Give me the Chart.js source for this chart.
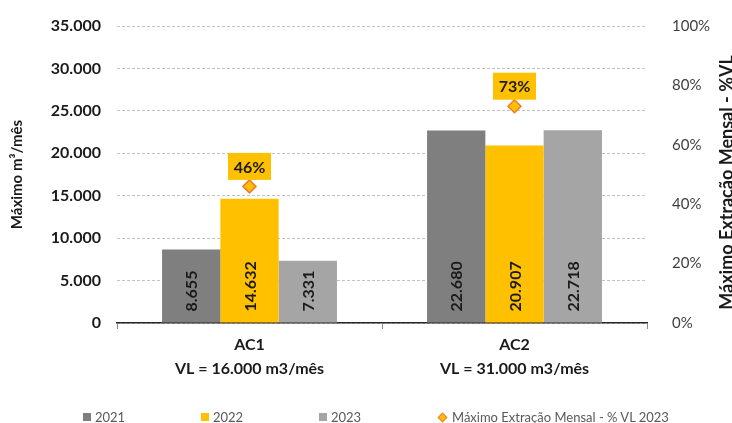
<!DOCTYPE html>
<html lang="pt">
<head>
    <meta charset="UTF-8">
    <title>Máximo Extração Mensal</title>
    <script src="https://cdn.jsdelivr.net/npm/chart.js"></script>
    <style>
        body {
            margin: 0;
            background: #ffffff;
            font-family: Lato, "Open Sans", sans-serif;
        }
        .wrap {
            position: relative;
            width: 732px;
            height: 423px;
        }
        .legend {
            position: absolute;
            top: 407px;
            left: 83px;
            display: flex;
            font-size: 13px;
            color: #595959;
            line-height: 20px;
        }
        .legend .item {
            width: 118px;
            display: flex;
            align-items: center;
            white-space: nowrap;
        }
        .legend .box {
            flex-shrink: 0;
            width: 8px;
            height: 8px;
            margin-right: 4px;
        }
        .legend .diamond {
            flex-shrink: 0;
            width: 7px;
            height: 7px;
            margin: 0 6px 0 2px;
            transform: rotate(45deg);
            box-sizing: border-box;
        }
    </style>
</head>
<body>
<div class="wrap">
    <canvas id="chart" width="732" height="423"></canvas>
    <div class="legend" id="legend"></div>
</div>

<script>
    // data
    const categories = [['AC1', 'VL = 16.000 m3/mês'], ['AC2', 'VL = 31.000 m3/mês']];
    const years = ['2021', '2022', '2023'];
    const values2021 = [8655, 22680];
    const values2022 = [14632, 20907];
    const values2023 = [7331, 22718];
    const pctLabel = 'Máximo Extração Mensal - % VL 2023';
    const pctVL2023 = [0.46, 0.73];
    const leftMax = 35000, leftStep = 5000;
    const rightMax = 1, rightStep = 0.2;
    const leftTitle = 'Máximo m³/mês';
    const rightTitle = 'Máximo Extração Mensal - %VL';

    const barColors = ['#7f7f7f', '#ffc000', '#a5a5a5'];
    const fmt = v => String(v).replace(/\B(?=(\d{3})+(?!\d))/g, '.');

    // value labels inside bars, % boxes and the right title
    const labelsPlugin = {
        id: 'labels',
        afterDatasetsDraw(chart) {
            const ctx = chart.ctx;
            ctx.save();
            ctx.font = 'bold 16px Lato';
            ctx.fillStyle = '#1a1a1a';
            for (let d = 0; d < 3; d++) {
                const ds = chart.data.datasets[d];
                chart.getDatasetMeta(d).data.forEach((bar, i) => {
                    ctx.save();
                    ctx.translate(bar.x + 1, bar.base - 11);
                    ctx.rotate(-Math.PI / 2);
                    ctx.textAlign = 'left';
                    ctx.textBaseline = 'middle';
                    ctx.fillText(fmt(ds.data[i]), 0, 0);
                    ctx.restore();
                });
            }
            const pts = chart.getDatasetMeta(3).data;
            pts.forEach((pt, i) => {
                const txt = Math.round(pctVL2023[i] * 100) + '%';
                const w = 43, h = 27;
                const cy = pt.y - 20;
                ctx.fillStyle = '#ffc000';
                ctx.fillRect(pt.x - w / 2, cy - h / 2, w, h);
                ctx.fillStyle = '#1a1a1a';
                ctx.textAlign = 'center';
                ctx.textBaseline = 'middle';
                ctx.fillText(txt, pt.x, cy + 1);
            });
            ctx.restore();
        },
        afterDraw(chart) {
            const ctx = chart.ctx;
            const area = chart.chartArea;
            ctx.save();
            ctx.translate(727, (area.top + area.bottom) / 2 + 8);
            ctx.rotate(-Math.PI / 2);
            ctx.font = 'bold 18px Lato';
            ctx.fillStyle = '#1a1a1a';
            ctx.textAlign = 'center';
            ctx.textBaseline = 'middle';
            ctx.fillText(rightTitle, 0, 0);
            ctx.restore();
        }
    };

    const ctx = document.getElementById('chart').getContext('2d');
    const chart = new Chart(ctx, {
        type: 'bar',
        data: {
            labels: categories,
            datasets: [
                { label: years[0], data: values2021, backgroundColor: barColors[0], yAxisID: 'y', order: 1 },
                { label: years[1], data: values2022, backgroundColor: barColors[1], yAxisID: 'y', order: 1 },
                { label: years[2], data: values2023, backgroundColor: barColors[2], yAxisID: 'y', order: 1 },
                {
                    type: 'line',
                    label: pctLabel,
                    data: pctVL2023,
                    yAxisID: 'y1',
                    showLine: false,
                    pointStyle: 'rectRot',
                    pointRadius: 6.5,
                    pointBackgroundColor: '#ffc000',
                    pointBorderColor: '#ed7d31',
                    pointBorderWidth: 1.5,
                    order: 0
                }
            ]
        },
        options: {
            responsive: false,
            animation: false,
            layout: { padding: { top: 12, bottom: 40, left: 0, right: 0 } },
            datasets: {
                bar: { categoryPercentage: 0.66, barPercentage: 1.0 }
            },
            plugins: {
                legend: { display: false },
                tooltip: { enabled: false }
            },
            scales: {
                x: {
                    grid: {
                        offset: true,
                        drawOnChartArea: false,
                        drawTicks: true,
                        tickLength: 6,
                        color: '#8c8c8c'
                    },
                    border: { display: true, color: '#262626', width: 1.5 },
                    ticks: {
                        font: { family: 'Lato', size: 16, weight: 'bold', lineHeight: 1.5 },
                        color: '#1a1a1a',
                        padding: 4,
                        maxRotation: 0
                    },
                    afterFit(scale) { scale.height = 60; }
                },
                y: {
                    position: 'left',
                    min: 0,
                    max: leftMax,
                    ticks: {
                        stepSize: leftStep,
                        font: { family: 'Lato', size: 16, weight: 'bold' },
                        color: '#1a1a1a',
                        padding: 16,
                        callback: v => fmt(v)
                    },
                    // light dotted grid lines like the original
                    grid: { color: '#c4c4c4', lineWidth: 1, drawTicks: false },
                    border: { display: false, dash: [3, 2] },
                    title: {
                        display: true,
                        text: leftTitle,
                        font: { family: 'Lato', size: 15, weight: 'bold' },
                        color: '#1a1a1a',
                        padding: { top: 8, bottom: 0 }
                    },
                    afterFit(scale) { scale.width = 117; }
                },
                y1: {
                    position: 'right',
                    min: 0,
                    max: rightMax,
                    ticks: {
                        stepSize: rightStep,
                        font: { family: 'Lato', size: 15 },
                        color: '#404040',
                        padding: 17,
                        callback: v => Math.round(v * 100) + '%'
                    },
                    grid: { display: false },
                    border: { display: false },
                    afterFit(scale) { scale.width = 85; }
                }
            }
        },
        plugins: [labelsPlugin]
    });

    // legend below the chart
    const legend = document.getElementById('legend');
    years.forEach((y, i) => {
        legend.insertAdjacentHTML('beforeend',
            '<div class="item"><span class="box" style="background:' + barColors[i] + '"></span>' + y + '</div>');
    });
    legend.insertAdjacentHTML('beforeend',
        '<div class="item"><span class="diamond" style="background:#ffc000;border:1.5px solid #ed7d31"></span>' + pctLabel + '</div>');
</script>
</body>
</html>
